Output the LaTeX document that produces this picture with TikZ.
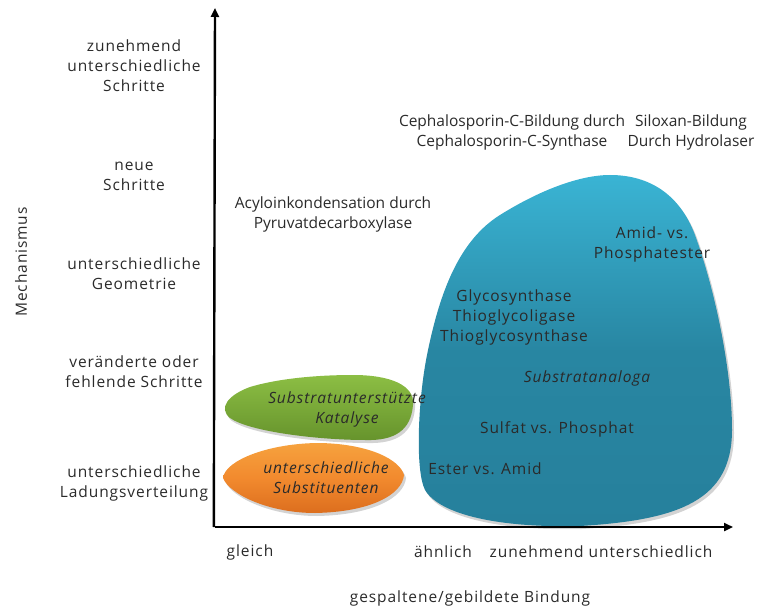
\documentclass[tikz,border=0pt]{standalone}
\usepackage{fontspec}
\setmainfont{Open Sans}[LetterSpace=6]
\newfontfamily\tightfont{Open Sans}[LetterSpace=0]
\usetikzlibrary{shadows,arrows.meta}
\definecolor{txt}{HTML}{2A2A2A}
\definecolor{blueTop}{HTML}{3AB4D4}
\definecolor{blueMid}{HTML}{2886A2}
\definecolor{blueBot}{HTML}{26809C}
\definecolor{greenTop}{HTML}{8CBE44}
\definecolor{greenBot}{HTML}{66932C}
\definecolor{orangeTop}{HTML}{F6A23E}
\definecolor{orangeMid}{HTML}{F28A2E}
\definecolor{orangeBot}{HTML}{DC6E1E}
\tikzset{
  lbl/.style={align=center, text=txt, font=\fontsize{15.5}{20}\selectfont, inner sep=0pt},
  ilbl/.style={lbl, font=\fontsize{15.5}{20}\selectfont\itshape},
  tlbl/.style={lbl, font=\fontsize{15.5}{20}\selectfont\tightfont},
  axis/.style={line width=2.4pt, -{Triangle[length=9pt,width=8pt]}},
  blob/.style={drop shadow={shadow xshift=2pt, shadow yshift=-3pt, opacity=0.35}}
}
\begin{document}
\begin{tikzpicture}[x=1pt,y=-1pt]
\useasboundingbox (0,0) rectangle (760,609);
% blue blob
\path[blob, top color=blueTop, bottom color=blueBot, middle color=blueMid, shading angle=0]
 (610,175) .. controls (650,175) and (680,195) .. (695,235)
 .. controls (715,290) and (732,370) .. (732,430)
 .. controls (732,500) and (680,520) .. (580,526)
 .. controls (500,528) and (440,515) .. (425,490)
 .. controls (415,470) and (418,400) .. (427,355)
 .. controls (440,290) and (460,240) .. (500,215)
 .. controls (540,190) and (580,175) .. (610,175) -- cycle;
% green blob
\path[blob, top color=greenTop, bottom color=greenBot]
 (353,375) .. controls (390,375) and (415,385) .. (413,405)
 .. controls (411,430) and (395,441) .. (365,440)
 .. controls (320,440) and (250,432) .. (230,418)
 .. controls (218,408) and (228,395) .. (250,387)
 .. controls (280,378) and (320,375) .. (353,375) -- cycle;
% orange blob
\path[blob, top color=orangeTop, bottom color=orangeBot, middle color=orangeMid]
 (320,443) .. controls (370,444) and (400,460) .. (404,475)
 .. controls (402,495) and (370,512) .. (315,513)
 .. controls (270,513) and (230,495) .. (223,478)
 .. controls (225,460) and (270,443) .. (320,443) -- cycle;
% axes
\coordinate (O) at (215,527);
\coordinate (Ytop) at (215,8);
\coordinate (Xend) at (733,527);
\draw[axis] ([xshift=-1.2pt]O) -- (Ytop);
\draw[axis] (O) -- (Xend);
% y labels
\node[lbl] (y5) at (134,66) {zunehmend\\unterschiedliche\\Schritte};
\node[lbl] (y4) at (134,176) {neue\\Schritte};
\node[lbl] (y3) at (134,274) {unterschiedliche\\Geometrie};
\node[lbl] (y2) at (134,372) {veränderte oder\\fehlende Schritte};
\node[lbl] (y1) at (134,483) {unterschiedliche\\Ladungsverteilung};
\node[lbl, rotate=90] (ym) at (21,262) {Mechanismus};
% x labels
\node[lbl] (x1) at (250,552) {gleich};
\node[lbl] (x2) at (443,552) {ähnlich};
\node[lbl] (x3) at (601,552) {zunehmend unterschiedlich};
\node[lbl] (xm) at (470,598) {gespaltene/gebildete Bindung};
% free labels
\node[tlbl] (ceph) at (512,132) {Cephalosporin-C-Bildung durch\\Cephalosporin-C-Synthase};
\node[tlbl] (silox) at (691,132) {Siloxan-Bildung\\Durch Hydrolaser};
\node[tlbl] (acyl) at (333,214) {Acyloinkondensation durch\\Pyruvatdecarboxylase};
% blob labels
\node[lbl] (amid) at (652,244) {Amid- vs.\\Phosphatester};
\node[lbl] (glyco) at (514,317) {Glycosynthase\\Thioglycoligase\\Thioglycosynthase};
\node[ilbl] (sana) at (587,378) {Substratanaloga};
\node[lbl] (sulf) at (557,429) {Sulfat vs. Phosphat};
\node[lbl] (ester) at (485,469) {Ester vs. Amid};
\node[ilbl] (kat) at (347,409) {Substratunterstützte\\Katalyse};
\node[ilbl] (subst) at (326,478) {unterschiedliche\\Substituenten};
\end{tikzpicture}
\end{document}
